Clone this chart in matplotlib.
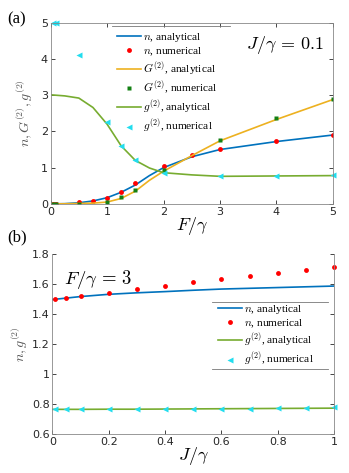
import numpy as np
import matplotlib
matplotlib.use('Agg')
import matplotlib.pyplot as plt
from matplotlib.lines import Line2D

plt.rcParams['mathtext.fontset'] = 'cm'
plt.rcParams['font.family'] = 'DejaVu Sans'

# ~ DATA panel (a): J/gamma = 0.1 ~
F_line = [0, 0.25, 0.5, 0.75, 1.0, 1.25, 1.5, 1.75, 2.0, 2.5, 3.0, 4.0, 5.0]
n_analytical = [0.0, 0.005, 0.03, 0.08, 0.17, 0.32, 0.52, 0.78, 1.0, 1.3, 1.5, 1.72, 1.9]
G2_analytical = [0.0, 0.002, 0.01, 0.02, 0.05, 0.15, 0.35, 0.65, 0.9, 1.33, 1.74, 2.33, 2.88]
g2_analytical = [3.01, 2.98, 2.92, 2.66, 2.2, 1.6, 1.2, 0.99, 0.86, 0.8, 0.76, 0.77, 0.78]

F_n_num = [0.05, 0.1, 0.5, 0.75, 1.0, 1.25, 1.5, 2.0, 2.5, 3.0, 4.0, 5.0]
n_numerical = [0.01, 0.01, 0.04, 0.08, 0.17, 0.33, 0.57, 1.04, 1.34, 1.51, 1.74, 1.91]

F_G_num = [0.05, 0.1, 0.5, 1.0, 1.25, 1.5, 2.0, 3.0, 4.0, 5.0]
G2_numerical = [0.0, 0.0, 0.01, 0.06, 0.18, 0.38, 0.93, 1.76, 2.36, 2.9]

F_g_num = [0.05, 0.1, 0.5, 1.0, 1.25, 1.5, 2.0, 3.0, 4.0, 5.0]
g2_numerical = [5.0, 5.0, 4.1, 2.27, 1.6, 1.2, 0.86, 0.77, 0.77, 0.79]

# ~ DATA panel (b): F/gamma = 3 ~
J_line = [0.0, 0.1, 0.2, 0.3, 0.4, 0.5, 0.6, 0.7, 0.8, 0.9, 1.0]
n_analytical_b = [1.495, 1.515, 1.53, 1.54, 1.548, 1.557, 1.565, 1.57, 1.575, 1.58, 1.585]
g2_analytical_b = [0.764, 0.764, 0.765, 0.765, 0.766, 0.767, 0.768, 0.769, 0.77, 0.771, 0.772]

J_num = [0.01, 0.05, 0.1, 0.2, 0.3, 0.4, 0.5, 0.6, 0.7, 0.8, 0.9, 1.0]
n_numerical_b = [1.498, 1.504, 1.52, 1.542, 1.564, 1.587, 1.609, 1.631, 1.651, 1.671, 1.693, 1.713]
g2_numerical_b = [0.766, 0.766, 0.766, 0.766, 0.766, 0.766, 0.767, 0.768, 0.769, 0.77, 0.771, 0.779]

BLUE = '#0072BD'
ORANGE = '#EDB120'
GREEN = '#77AC30'
DKGREEN = '#138013'
CYAN = '#22DDEE'
TICK_COLOR = '#262626'
LEG_PROP = {'family': 'Liberation Serif', 'size': 8.2}


def style_axes(ax):
    ax.tick_params(direction='in', length=3, width=0.6, labelsize=8,
                   colors=TICK_COLOR, top=True, right=True, pad=2)
    for s in ax.spines.values():
        s.set_color('#888888')
        s.set_linewidth(0.6)


def hrule(x0, x1, y):
    # thin rule in pixel coordinates of the 349x473 canvas
    fig.add_artist(Line2D([x0 / 349, x1 / 349], [1 - y / 473, 1 - y / 473],
                          color='#777777', lw=0.6))


fig = plt.figure(figsize=(3.49, 4.73), dpi=100)

# ~ PANEL (a) ~
ax = fig.add_axes([0.145, 0.569, 0.809, 0.383])
ax.plot(F_line, n_analytical, color=BLUE, lw=1.2, label=r'$n$, analytical')
ax.plot(F_n_num, n_numerical, 'o', color='red', ms=3.5, mec='none', label=r'$n$, numerical')
ax.plot(F_line, G2_analytical, color=ORANGE, lw=1.2, label=r'$G^{(2)}$, analytical')
ax.plot(F_G_num, G2_numerical, 's', color=DKGREEN, ms=3, mec='none', label=r'$G^{(2)}$, numerical')
ax.plot(F_line, g2_analytical, color=GREEN, lw=1.2, label=r'$g^{(2)}$, analytical')
ax.plot(F_g_num, g2_numerical, '<', color=CYAN, ms=4.3, mec='none', label=r'$g^{(2)}$, numerical', clip_on=False)
ax.set_xlim(0, 5)
ax.set_ylim(0, 5)
ax.set_xticks([0, 1, 2, 3, 4, 5])
ax.set_yticks([0, 1, 2, 3, 4, 5])
style_axes(ax)
ax.set_xlabel(r'$F/\gamma$', fontsize=13, labelpad=-1)
ax.set_ylabel(r'$n, G^{(2)}, g^{(2)}$', fontsize=10, labelpad=4, color='#555555')
ax.text(0.965, 0.935, r'$J/\gamma\,=\,0.1$', transform=ax.transAxes, ha='right', va='top', fontsize=13)
ax.legend(loc='upper left', bbox_to_anchor=(0.234, 0.952), frameon=False,
          handlelength=2.1, handletextpad=0.2, labelspacing=0.12, borderpad=0,
          borderaxespad=0, prop=LEG_PROP)
hrule(112, 230, 26)
fig.text(0.02, 0.975, '(a)', fontsize=12, family='Liberation Serif', va='top')

# ~ PANEL (b) ~
ax2 = fig.add_axes([0.150, 0.0825, 0.807, 0.381])
ax2.plot(J_line, n_analytical_b, color=BLUE, lw=1.2, label=r'$n$, analytical')
ax2.plot(J_num, n_numerical_b, 'o', color='red', ms=3.5, mec='none', label=r'$n$, numerical', clip_on=False)
ax2.plot(J_line, g2_analytical_b, color=GREEN, lw=1.2, label=r'$g^{(2)}$, analytical')
ax2.plot(J_num, g2_numerical_b, '<', color=CYAN, ms=4.3, mec='none', label=r'$g^{(2)}$, numerical', clip_on=False)
ax2.set_xlim(0, 1)
ax2.set_ylim(0.6, 1.8)
ax2.set_xticks([0, 0.2, 0.4, 0.6, 0.8, 1])
ax2.set_xticklabels(['0', '0.2', '0.4', '0.6', '0.8', '1'])
ax2.set_yticks([0.6, 0.8, 1.0, 1.2, 1.4, 1.6, 1.8])
ax2.set_yticklabels(['0.6', '0.8', '1', '1.2', '1.4', '1.6', '1.8'])
style_axes(ax2)
ax2.tick_params(top=False)
ax2.spines['top'].set_visible(False)
ax2.set_xlabel(r'$J/\gamma$', fontsize=13, labelpad=-1)
ax2.set_ylabel(r'$n, g^{(2)}$', fontsize=10, labelpad=1, color='#555555')
ax2.text(0.04, 0.92, r'$F/\gamma\,=\,3$', transform=ax2.transAxes, ha='left', va='top', fontsize=13.5)
ax2.legend(loc='upper left', bbox_to_anchor=(0.588, 0.728), frameon=False,
           handlelength=2.1, handletextpad=0.2, labelspacing=0.12, borderpad=0,
           borderaxespad=0, prop=LEG_PROP)
hrule(212, 328, 302)
hrule(212, 328, 369)
fig.text(0.02, 0.515, '(b)', fontsize=12, family='Liberation Serif', va='top')

fig.savefig('out.png', dpi=100)
